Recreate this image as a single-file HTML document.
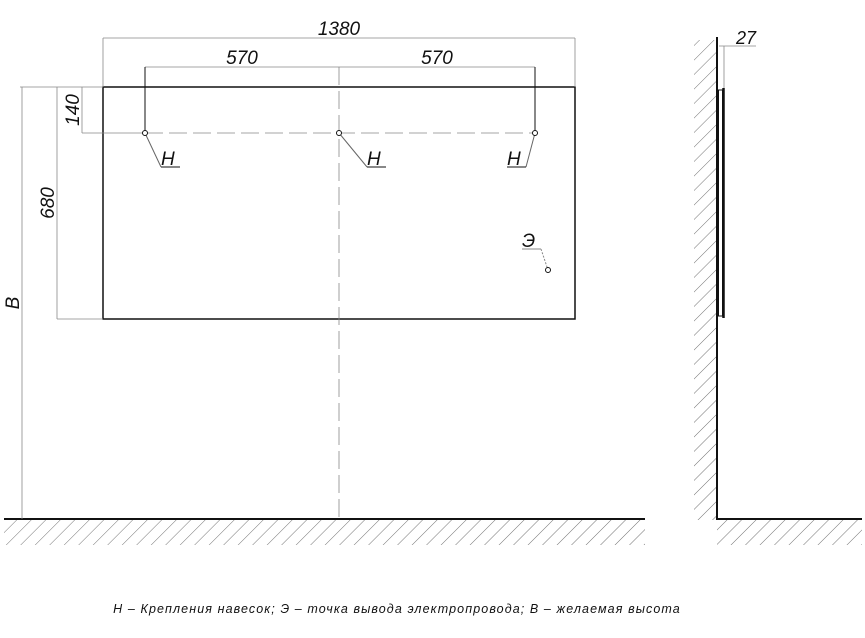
<!DOCTYPE html>
<html><head><meta charset="utf-8"><style>
html,body{margin:0;padding:0;background:#fff;}
svg{display:block;}
text{font-family:"Liberation Sans","DejaVu Sans",sans-serif;font-style:italic;fill:#111;}
</style></head><body>
<svg width="865" height="638" viewBox="0 0 865 638" xmlns="http://www.w3.org/2000/svg">
<defs>
<pattern id="h" width="10.25" height="10" patternUnits="userSpaceOnUse" patternTransform="rotate(45)">
<line x1="0" y1="-5" x2="0" y2="15" stroke="#666" stroke-width="0.9"/>
</pattern>
</defs>
<rect x="4" y="520" width="641" height="25" fill="url(#h)"/>
<rect x="717" y="520" width="145" height="25" fill="url(#h)"/>
<rect x="694" y="40" width="22" height="480" fill="url(#h)"/>
<g stroke="#111" fill="none">
<line x1="4" y1="519" x2="645" y2="519" stroke-width="2"/>
<line x1="716" y1="519" x2="862" y2="519" stroke-width="2"/>
<line x1="717" y1="37" x2="717" y2="520" stroke-width="2"/>
<rect x="103" y="87" width="472" height="232" stroke-width="1.5"/>
</g>
<g stroke="#888" stroke-width="0.8" fill="none">
<line x1="103" y1="38" x2="575" y2="38"/>
<line x1="103" y1="38" x2="103" y2="87"/>
<line x1="575" y1="38" x2="575" y2="87"/>
<line x1="145" y1="67" x2="535" y2="67"/>
<line x1="82" y1="87" x2="82" y2="133"/>
<line x1="57" y1="87" x2="57" y2="319"/>
<line x1="22" y1="87" x2="22" y2="519"/>
<line x1="20" y1="87" x2="103" y2="87"/>
<line x1="57" y1="319" x2="103" y2="319"/>
<line x1="719" y1="46" x2="756" y2="46"/>
<line x1="724" y1="46" x2="724" y2="88"/>
<line x1="82" y1="133" x2="145" y2="133"/>
<line x1="145" y1="133" x2="535" y2="133" stroke-dasharray="18,6"/>
<line x1="339" y1="67" x2="339" y2="519" stroke-dasharray="18,6"/>
</g>
<g stroke="#111" stroke-width="1" fill="none">
<line x1="145" y1="67" x2="145" y2="133"/>
<line x1="535" y1="67" x2="535" y2="133"/>
<line x1="145" y1="133" x2="161" y2="167" stroke="#666"/><line x1="161" y1="167" x2="180" y2="167"/>
<line x1="339" y1="133" x2="367" y2="167" stroke="#666"/><line x1="367" y1="167" x2="386" y2="167"/>
<line x1="535" y1="133" x2="526" y2="167" stroke="#666"/><line x1="507" y1="167" x2="526" y2="167"/>
<line x1="522" y1="249" x2="541" y2="249" stroke="#888"/><line x1="541" y1="249" x2="548" y2="270" stroke="#888" stroke-dasharray="2,1.5"/>
<circle cx="145" cy="133" r="2.5" fill="#fff"/>
<circle cx="339" cy="133" r="2.5" fill="#fff"/>
<circle cx="535" cy="133" r="2.5" fill="#fff"/>
<circle cx="548" cy="270" r="2.5" fill="#fff"/>
<rect x="718.5" y="90" width="4" height="226" stroke-width="1"/>
<line x1="723.5" y1="88" x2="723.5" y2="318" stroke-width="2.5"/>
</g>
<g font-size="19">
<text x="339" y="35" text-anchor="middle">1380</text>
<text x="242" y="64" text-anchor="middle">570</text>
<text x="437" y="64" text-anchor="middle">570</text>
<text x="161" y="165">Н</text>
<text x="367" y="165">Н</text>
<text x="507" y="165">Н</text>
<text x="522" y="247">Э</text>
<text x="736" y="44" font-size="18">27</text>
<text transform="translate(79,110) rotate(-90)" text-anchor="middle">140</text>
<text transform="translate(54,203) rotate(-90)" text-anchor="middle">680</text>
<text transform="translate(19,303) rotate(-90)" text-anchor="middle">В</text>
</g>
<text x="397" y="613" font-size="12.5" text-anchor="middle" letter-spacing="1.1">Н – Крепления навесок; Э – точка вывода электропровода; В – желаемая высота</text>
</svg>
</body></html>
